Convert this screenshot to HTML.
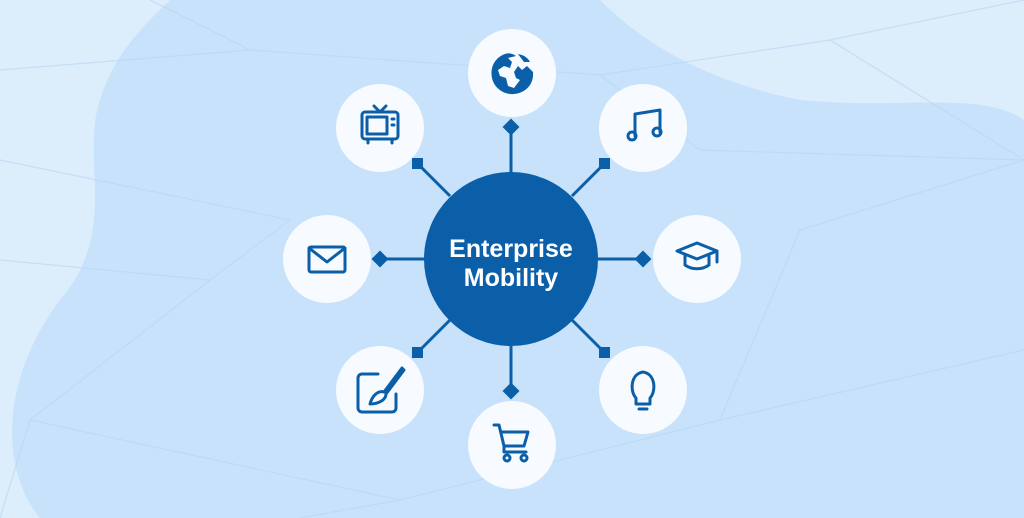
<!DOCTYPE html>
<html><head><meta charset="utf-8"><style>
html,body{margin:0;padding:0;width:1024px;height:518px;overflow:hidden;background:#dcedfc}
</style></head><body>
<svg width="1024" height="518" viewBox="0 0 1024 518" xmlns="http://www.w3.org/2000/svg">
<rect width="1024" height="518" fill="#dcedfc"/>
<path d="M170 0 L600 0 C640 40 700 80 800 100 C900 110 980 90 1024 120 L1024 518 L40 518 C0 470 0 380 60 300 C120 230 80 160 100 100 C115 50 150 20 170 0Z" fill="#c7e2fa"/>
<g stroke="#b9d8f4" stroke-width="1.2" fill="none" opacity="0.7">
<path d="M0 70 L250 50 L600 75 L830 40 L1024 0"/><path d="M250 50 L150 0"/><path d="M830 40 L1024 160 L700 150"/>
<path d="M0 260 L210 280 L290 220 L0 160"/><path d="M210 280 L30 420 L0 518"/><path d="M30 420 L400 500 L720 420 L1024 350"/>
<path d="M720 420 L800 230 L1024 160"/><path d="M400 500 L300 518"/><path d="M600 75 L700 150"/>
</g>
<g stroke="#0b5fa9" stroke-width="3" fill="#0b5fa9">
<line x1="511" y1="127" x2="511" y2="175"/><line x1="511" y1="343" x2="511" y2="391"/>
<line x1="380" y1="259" x2="428" y2="259"/><line x1="594" y1="259" x2="643" y2="259"/>
<line x1="418" y1="164" x2="450" y2="196"/><line x1="604" y1="164" x2="572" y2="196"/>
<line x1="418" y1="352" x2="450" y2="320"/><line x1="604" y1="352" x2="572" y2="320"/>
<rect x="505" y="121" width="12" height="12" transform="rotate(45 511 127)" stroke="none"/>
<rect x="505" y="385" width="12" height="12" transform="rotate(45 511 391)" stroke="none"/>
<rect x="374" y="253" width="12" height="12" transform="rotate(45 380 259)" stroke="none"/>
<rect x="637" y="253" width="12" height="12" transform="rotate(45 643 259)" stroke="none"/>
<rect x="412" y="158" width="11" height="11" stroke="none"/><rect x="599" y="158" width="11" height="11" stroke="none"/>
<rect x="412" y="347" width="11" height="11" stroke="none"/><rect x="599" y="347" width="11" height="11" stroke="none"/>
</g>
<circle cx="511" cy="259" r="87" fill="#0b5fa9"/>
<text x="511" y="257" text-anchor="middle" font-family="Liberation Sans, sans-serif" font-weight="bold" font-size="25" fill="#fff">Enterprise</text>
<text x="511" y="286" text-anchor="middle" font-family="Liberation Sans, sans-serif" font-weight="bold" font-size="25" fill="#fff">Mobility</text>
<g fill="#f7fbff">
<circle cx="512" cy="73" r="44"/><circle cx="643" cy="128" r="44"/><circle cx="697" cy="259" r="44"/><circle cx="643" cy="390" r="44"/>
<circle cx="512" cy="445" r="44"/><circle cx="380" cy="390" r="44"/><circle cx="327" cy="259" r="44"/><circle cx="380" cy="128" r="44"/>
</g>
<!-- globe -->
<path d="M505 54 C494 58 490 68 492 78 C494 88 504 95 514 94 C526 93 534 84 533 72 L527 66 L522 70 L518 66 L514 72 L516 78 L520 80 L514 88 L508 86 L506 78 L500 76 L498 70 L504 66 L510 68 L512 62 L508 58 L516 56 C512 53 508 53 505 54Z" fill="#0b5fa9"/>
<path d="M518 54 C524 55 528 58 530 62 L524 62 Z" fill="#0b5fa9"/>
<g fill="none" stroke="#0b5fa9" stroke-width="3" stroke-linecap="round" stroke-linejoin="round">
<!-- tv -->
<rect x="362" y="112" width="36" height="27" rx="3"/><rect x="367" y="117" width="20" height="17"/>
<path d="M374 106 L380 112 L386 106 M392 119 h2 M392 125 h2 M368 139 v4 M392 139 v4"/>
<!-- music -->
<path d="M635 136 V114 L660 110 V132"/><circle cx="632" cy="136" r="4"/><circle cx="657" cy="132" r="4"/>
<!-- mail -->
<rect x="309" y="247" width="36" height="25" rx="2"/><path d="M309 248 L327 262 L345 248"/>
<!-- grad cap -->
<path d="M677 251 L697 243 L717 251 L697 259 Z"/><path d="M685 255 V265 C692 270 702 270 709 265 V255 M717 251 V262"/>
<!-- brush -->
<path d="M378 374 H362 a4 4 0 0 0 -4 4 V408 a4 4 0 0 0 4 4 H392 a4 4 0 0 0 4 -4 V394"/>
<path d="M402 368 L384 392 C378 390 372 396 370 404 C378 404 386 400 386 394 L404 370 Z"/>
<!-- bulb -->
<path d="M636 398 C630 392 630 374 643 372 C656 374 656 392 650 398 V404 H636 Z"/><path d="M637 404 h12 M639 409 h8"/>
<!-- cart -->
<path d="M494 425 H499 L504 446 H524 L528 432 H502"/><path d="M504 446 V452 H526"/><circle cx="507" cy="458" r="3"/><circle cx="524" cy="458" r="3"/>
</g>
</svg>
</body></html>
